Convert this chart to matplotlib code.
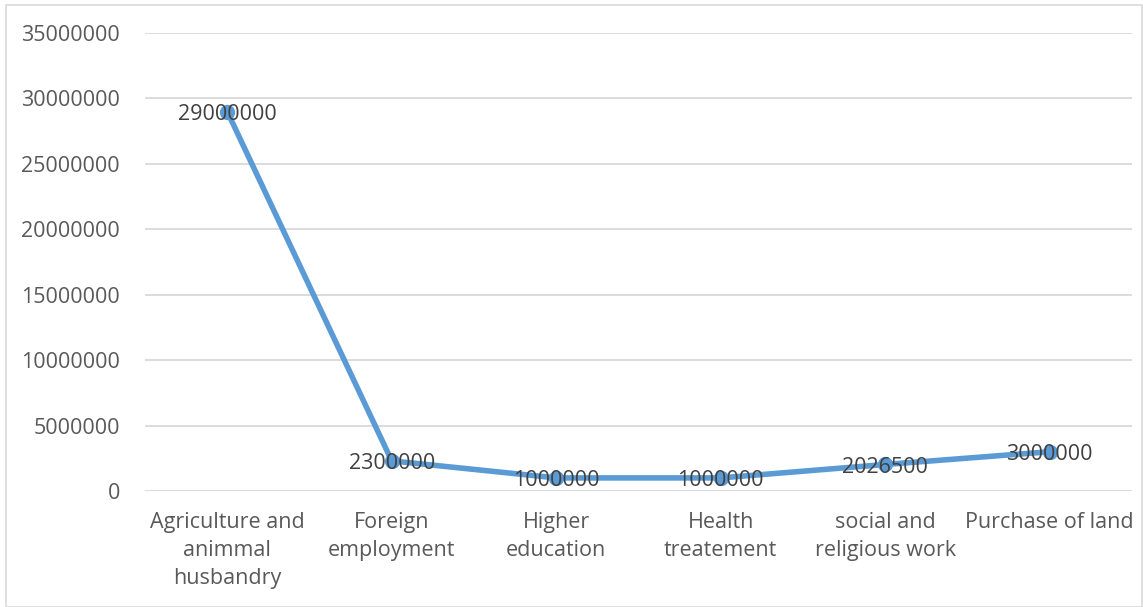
import matplotlib
matplotlib.use("Agg")
import matplotlib.pyplot as plt
from matplotlib.patches import Rectangle

# data
categories = ["Agriculture and\nanimmal\nhusbandry", "Foreign\nemployment", "Higher\neducation",
              "Health\ntreatement", "social and\nreligious work", "Purchase of land"]
values = [29000000, 2300000, 1000000, 1000000, 2026500, 3000000]
yticks = [0, 5000000, 10000000, 15000000, 20000000, 25000000, 30000000, 35000000]

LINE_COLOR = "#5B9BD5"
TEXT_DARK = "#404040"
TEXT_TICK = "#595959"
GRID = "#D9D9D9"
FONT = "Open Sans"
FS = 15.5

W, H = 1143, 607
fig = plt.figure(figsize=(W / 100, H / 100), dpi=100)
ax = fig.add_axes([145 / W, 116 / H, (1132 - 145) / W, (491 - 33) / H])

x = list(range(len(categories)))
ax.plot(x, values, color=LINE_COLOR, lw=4, marker="o", ms=10,
        solid_capstyle="round", solid_joinstyle="round", zorder=3)

for xi, v in zip(x, values):
    ax.text(xi, v - 200000, str(v), ha="center", va="center", fontsize=FS,
            family=FONT, color=TEXT_DARK, zorder=4)

ax.set_xlim(-0.5, len(categories) - 0.5)
ax.set_ylim(0, 35000000)
ax.set_yticks(yticks)
ax.set_yticklabels([str(t) for t in yticks], family=FONT, fontsize=FS, color=TEXT_TICK)
ax.set_xticks(x)
ax.set_xticklabels(categories, family=FONT, fontsize=FS, color=TEXT_TICK, linespacing=1.45)
ax.tick_params(axis="both", length=0)
ax.tick_params(axis="y", pad=18)
ax.tick_params(axis="x", pad=15)
ax.grid(axis="y", color=GRID, lw=1.3)
ax.set_axisbelow(True)
for s in ax.spines.values():
    s.set_visible(False)

# chart border
fig.patches.append(Rectangle((6 / W, 0), 1 - 6 / W - 1 / W, 1 - 5 / H, transform=fig.transFigure,
                             fill=False, edgecolor=GRID, lw=1.2))

fig.savefig("out.png", dpi=100, facecolor="white")
